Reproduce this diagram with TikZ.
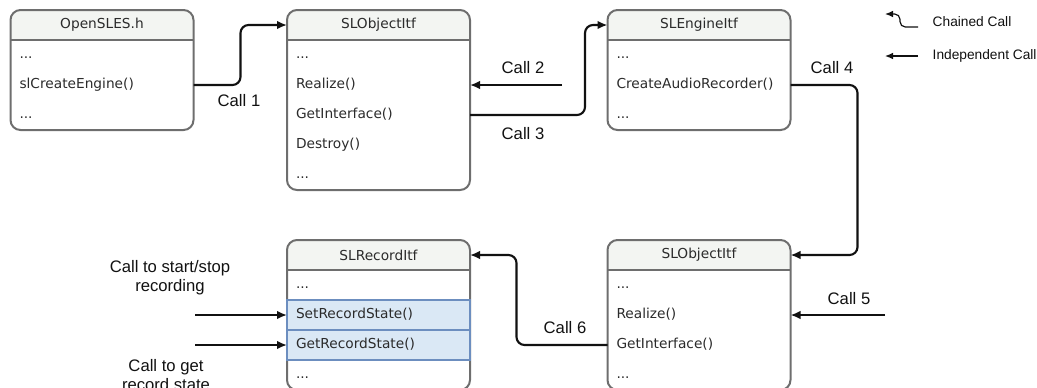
\documentclass[tikz,border=0pt]{standalone}
\usepackage{fontspec}
\setmainfont{Liberation Sans}
\newfontfamily\boxfamily{DejaVu Sans}
\usetikzlibrary{arrows.meta,positioning,backgrounds}
\definecolor{hdrfill}{HTML}{F3F5F2}
\definecolor{boxline}{HTML}{6E6E6E}
\definecolor{boxtext}{HTML}{2B2B2B}
\definecolor{hifill}{HTML}{DAE8F5}
\definecolor{hiline}{HTML}{6C8EBF}
\definecolor{callline}{HTML}{111111}

\tikzset{
  hdr/.style = {rectangle, minimum width=137.25pt, minimum height=22.5pt,
    inner sep=0pt, outer sep=0pt, text=boxtext,
    font=\boxfamily\fontsize{10.3}{12}\selectfont},
  row/.style = {hdr, text width=123.75pt, inner xsep=6.75pt, align=left,
    text height=7.5pt, text depth=2pt},
  hirow/.style = {row, fill=hifill, draw=hiline, line width=1.2pt},
  frame/.style = {draw=boxline, line width=1.5pt},
  call/.style = {-{Latex[length=7.5pt,width=6.5pt]}, draw=callline,
    line width=1.6pt, rounded corners=6pt},
  lbl/.style = {font=\fontsize{12.5}{14}\selectfont, text=callline, align=center},
  legend/.style = {font=\fontsize{10.3}{12}\selectfont, text=callline, anchor=west},
  legarrow/.style = {-{Latex[length=6pt,width=5pt]}, draw=callline,
    line width=0.9pt, rounded corners=4pt}
}

% header fill, separator and rounded outline of one class box
\newcommand{\classframe}[2]{%
  \begin{scope}[on background layer]
    \begin{scope}
      \clip[rounded corners=7.5pt] (#1.north west) rectangle (#2.south east);
      \fill[hdrfill] (#1.north west) rectangle (#1.south east);
    \end{scope}
    \draw[frame] (#1.south west) -- (#1.south east);
    \draw[frame, rounded corners=7.5pt] (#1.north west) rectangle (#2.south east);
  \end{scope}}

\begin{document}
\begin{tikzpicture}[x=0.75pt, y=-0.75pt]
    \clip (0,0) rectangle (1037,387);

    % OpenSLES.h
    \node[hdr] (sles) at (102,25) {OpenSLES.h};
    \node[row, below=0pt of sles] (sles1) {...};
    \node[row, below=0pt of sles1] (sles2) {slCreateEngine()};
    \node[row, below=0pt of sles2] (sles3) {...};
    \classframe{sles}{sles3}

    % SLObjectItf (engine object)
    \node[hdr] (obja) at (378.5,25) {SLObjectItf};
    \node[row, below=0pt of obja] (obja1) {...};
    \node[row, below=0pt of obja1] (obja2) {Realize()};
    \node[row, below=0pt of obja2] (obja3) {GetInterface()};
    \node[row, below=0pt of obja3] (obja4) {Destroy()};
    \node[row, below=0pt of obja4] (obja5) {...};
    \classframe{obja}{obja5}

    % SLEngineItf
    \node[hdr] (eng) at (699,25) {SLEngineItf};
    \node[row, below=0pt of eng] (eng1) {...};
    \node[row, below=0pt of eng1] (eng2) {CreateAudioRecorder()};
    \node[row, below=0pt of eng2] (eng3) {...};
    \classframe{eng}{eng3}

    % SLObjectItf (recorder object)
    \node[hdr] (objb) at (699,255) {SLObjectItf};
    \node[row, below=0pt of objb] (objb1) {...};
    \node[row, below=0pt of objb1] (objb2) {Realize()};
    \node[row, below=0pt of objb2] (objb3) {GetInterface()};
    \node[row, below=0pt of objb3] (objb4) {...};
    \classframe{objb}{objb4}

    % SLRecordItf
    \node[hdr] (rec) at (378.5,255) {SLRecordItf};
    \node[row, below=0pt of rec] (rec1) {...};
    \node[hirow, below=0pt of rec1] (rec2) {SetRecordState()};
    \node[hirow, below=0pt of rec2] (rec3) {GetRecordState()};
    \node[row, below=0pt of rec3] (rec4) {...};
    \classframe{rec}{rec4}

    % free ends of the independent calls
    \coordinate (c2in) at (562,85);
    \coordinate (c5in) at (885,315);
    \coordinate (setin) at (195,315);
    \coordinate (getin) at (195,345);

    \draw[call] (sles2.east) -- ++(47,0) |- (obja.west);
    \draw[call] (c2in) -- (obja2.east);
    \draw[call] (obja3.east) -- ++(115,0) |- (eng.west);
    \draw[call] (eng2.east) -- ++(67,0) |- (objb.east);
    \draw[call] (c5in) -- (objb2.east);
    \draw[call] (objb3.west) -- ++(-91,0) |- (rec.east);
    \draw[call] (setin) -- (rec2.west);
    \draw[call] (getin) -- (rec3.west);

    \node[lbl] (l1) at (239,101) {Call 1};
    \node[lbl] (l2) at (523,68) {Call 2};
    \node[lbl] (l3) at (523,134) {Call 3};
    \node[lbl] (l4) at (832,68) {Call 4};
    \node[lbl] (l5) at (849,299) {Call 5};
    \node[lbl] (l6) at (565,328) {Call 6};
    \node[lbl] (lset) at (170,278) {Call to start/stop\\recording};
    \node[lbl] (lget) at (166,375) {Call to get\\record state};

    % legend
    \node[legend] (chained) at (928,22) {Chained Call};
    \node[legend] (indep) at (928,56) {Independent Call};
    \coordinate (ch0) at (918,27);
    \coordinate (ch1) at (885,14);
    \coordinate (in0) at (918,56);
    \coordinate (in1) at (885,56);
    \draw[legarrow] (ch0) -| (900,14) -- (ch1);
    \draw[legarrow] (in0) -- (in1);
\end{tikzpicture}
\end{document}
